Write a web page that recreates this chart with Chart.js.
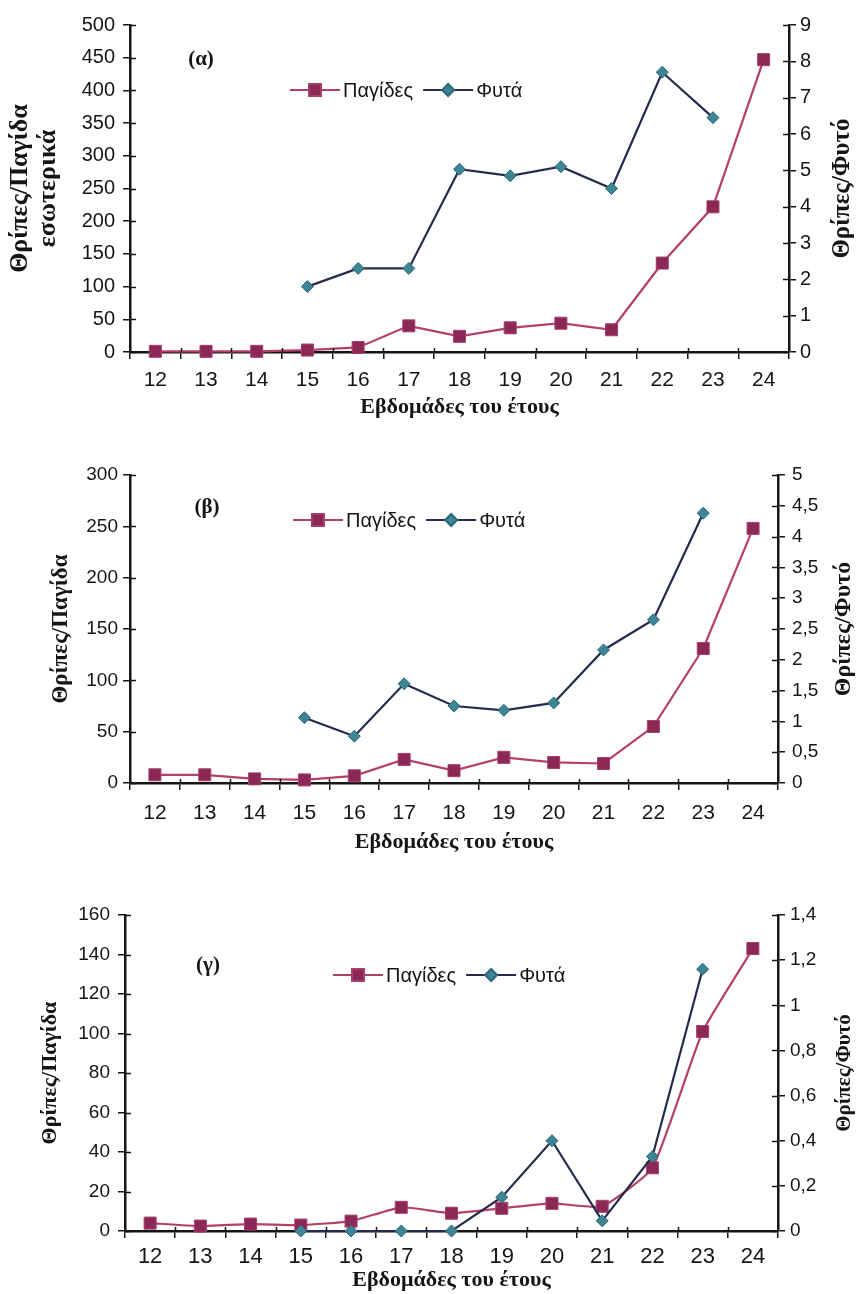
<!DOCTYPE html>
<html>
<head>
<meta charset="utf-8">
<script src="https://cdn.jsdelivr.net/npm/chart.js@4/dist/chart.umd.min.js"></script>
<style>
  body { margin: 0; background: #fff; }
  .panel { position: absolute; left: 0; width: 856px; }
</style>
</head>
<body>
<div class="panel" style="top:0px"><canvas id="chartA" width="856" height="430"></canvas></div>
<div class="panel" style="top:440px"><canvas id="chartB" width="856" height="430"></canvas></div>
<div class="panel" style="top:880px"><canvas id="chartC" width="856" height="414"></canvas></div>
<script>
// weeks of the year
const weeks = ['12', '13', '14', '15', '16', '17', '18', '19', '20', '21', '22', '23', '24'];

// (α) indoor
const trapsA = [1, 1, 1, 3, 7, 40, 24, 37, 44, 34, 136, 222, 447];
const plantsA = [null, null, null, 1.8, 2.3, 2.3, 5.03, 4.85, 5.1, 4.5, 7.7, 6.45, null];
const trapTicksA = [0, 50, 100, 150, 200, 250, 300, 350, 400, 450, 500];
const plantTicksA = [0, 1, 2, 3, 4, 5, 6, 7, 8, 9];

// (β)
const trapsB = [8, 8, 4, 3, 7, 23, 12, 25, 20, 19, 55, 131, 248];
const plantsB = [null, null, null, 1.06, 0.76, 1.61, 1.25, 1.18, 1.3, 2.16, 2.65, 4.38, null];
const trapTicksB = [0, 50, 100, 150, 200, 250, 300];
const plantTicksB = [0, 0.5, 1, 1.5, 2, 2.5, 3, 3.5, 4, 4.5, 5];

// (γ)
const trapsC = [4, 2.5, 3.5, 3, 5, 12, 9, 11.5, 14, 12.5, 32, 101, 143];
const plantsC = [null, null, null, 0, 0, 0, 0, 0.15, 0.4, 0.045, 0.33, 1.16, null];
const trapTicksC = [0, 20, 40, 60, 80, 100, 120, 140, 160];
const plantTicksC = [0, 0.2, 0.4, 0.6, 0.8, 1, 1.2, 1.4];

const trapLabel = 'Παγίδες';
const plantLabel = 'Φυτά';
const xTitle = 'Εβδομάδες του έτους';
const rightTitle = 'Θρίπες/Φυτό';

const TRAP_LINE = '#b43e6c';
const TRAP_FILL = '#8c2856';
const PLANT_LINE = '#262b4c';
const PLANT_FILL = '#3d8595';
const INK = '#151515';
const SANS = '"Liberation Sans", Arial, sans-serif';
const SERIF = '"Liberation Serif", "Times New Roman", serif';

// panel label, right-hand title, inner half of the cross ticks and the line+marker legend
const panelDecor = {
    id: 'panelDecor',
    afterDraw(chart, args, opts) {
        const ctx = chart.ctx;
        const area = chart.chartArea;
        const sx = chart.scales.x, sy = chart.scales.y, sy1 = chart.scales.y1;
        ctx.save();

        ctx.strokeStyle = INK;
        ctx.lineWidth = 1.5;
        ctx.beginPath();
        sy.ticks.forEach(t => {
            const py = Math.round(sy.getPixelForValue(t.value)) + 0.5;
            ctx.moveTo(area.left, py);
            ctx.lineTo(area.left + 6, py);
        });
        sy1.ticks.forEach(t => {
            const py = Math.round(sy1.getPixelForValue(t.value)) + 0.5;
            ctx.moveTo(area.right, py);
            ctx.lineTo(area.right - 6, py);
        });
        for (let i = 0; i < weeks.length - 1; i++) {
            const px = Math.round((sx.getPixelForValue(i) + sx.getPixelForValue(i + 1)) / 2) + 0.5;
            ctx.moveTo(px, area.bottom);
            ctx.lineTo(px, area.bottom - 4);
        }
        ctx.stroke();

        ctx.fillStyle = INK;
        ctx.textAlign = 'center';
        ctx.textBaseline = 'middle';
        ctx.font = 'bold 21px ' + SERIF;
        ctx.fillText(opts.label, opts.labelX, opts.labelY);

        ctx.save();
        ctx.translate(opts.rightTitleX, (area.top + area.bottom) / 2);
        ctx.rotate(-Math.PI / 2);
        ctx.font = 'bold ' + opts.rightTitleSize + 'px ' + SERIF;
        ctx.fillText(rightTitle, 0, 0);
        ctx.restore();

        let x = opts.legendX;
        const y = opts.legendY;
        ctx.font = '20px ' + SANS;
        ctx.textAlign = 'left';
        chart.data.datasets.forEach(ds => {
            ctx.strokeStyle = ds.borderColor;
            ctx.lineWidth = 2;
            ctx.beginPath();
            ctx.moveTo(x, y);
            ctx.lineTo(x + 50, y);
            ctx.stroke();
            ctx.fillStyle = ds.pointBackgroundColor;
            ctx.strokeStyle = ds.pointBorderColor;
            Chart.helpers.drawPoint(ctx, {
                pointStyle: ds.pointStyle,
                radius: ds.pointRadius,
                rotation: 0,
                borderWidth: 1
            }, x + 25, y);
            ctx.fillStyle = INK;
            ctx.fillText(ds.label, x + 53, y + 1);
            x += 53 + ctx.measureText(ds.label).width + 10;
        });
        ctx.restore();
    }
};

function fixedWidth(w) {
    return scale => { scale.width = w; };
}

function useTicks(list) {
    return scale => { scale.ticks = list.map(v => ({ value: v })); };
}

function makePanel(id, cfg) {
    const canvas = document.getElementById(id);
    const H = canvas.height;
    const area = cfg.area;
    const axisBorder = { display: true, color: INK, width: 2.5 };
    const tickGrid = { drawOnChartArea: false, drawTicks: true, tickLength: 7, color: INK, lineWidth: 1.5 };

    return new Chart(canvas, {
        type: 'line',
        data: {
            labels: weeks,
            datasets: [{
                label: trapLabel,
                data: cfg.traps,
                yAxisID: 'y',
                borderColor: TRAP_LINE,
                borderWidth: 2.2,
                pointStyle: 'rect',
                pointRadius: 8.5,
                pointBackgroundColor: TRAP_FILL,
                pointBorderColor: '#a4406c',
                pointBorderWidth: 1,
                tension: cfg.tension,
                clip: false,
                order: 2
            }, {
                label: plantLabel,
                data: cfg.plants,
                yAxisID: 'y1',
                borderColor: PLANT_LINE,
                borderWidth: 2.2,
                pointStyle: 'rectRot',
                pointRadius: 6,
                pointBackgroundColor: PLANT_FILL,
                pointBorderColor: '#2d6877',
                pointBorderWidth: 1,
                tension: 0,
                clip: false,
                order: 1
            }]
        },
        options: {
            responsive: false,
            animation: false,
            devicePixelRatio: 1,
            layout: { padding: { top: area.top, left: 0, right: 0, bottom: 0 } },
            plugins: {
                legend: { display: false },
                tooltip: { enabled: false },
                panelDecor: cfg.decor
            },
            scales: {
                x: {
                    type: 'category',
                    offset: true,
                    grid: Object.assign({}, tickGrid, { offset: true }),
                    border: axisBorder,
                    ticks: { color: INK, font: { family: SANS, size: cfg.xTickSize }, padding: cfg.xTickPad, maxRotation: 0, autoSkip: false },
                    title: {
                        display: true,
                        text: xTitle,
                        color: INK,
                        font: { family: SERIF, size: 22, weight: 'bold', lineHeight: 1.2 },
                        padding: { top: 0, bottom: cfg.xTitlePad }
                    },
                    afterFit: scale => { scale.height = H - area.bottom; }
                },
                y: {
                    position: 'left',
                    min: cfg.trapTicks[0],
                    max: cfg.trapTicks[cfg.trapTicks.length - 1],
                    afterBuildTicks: useTicks(cfg.trapTicks),
                    grid: tickGrid,
                    border: axisBorder,
                    ticks: { color: INK, font: { family: SANS, size: cfg.yTickSize }, padding: cfg.yTickPad },
                    title: {
                        display: true,
                        text: cfg.leftTitle,
                        color: INK,
                        font: { family: SERIF, size: cfg.leftTitleSize, weight: 'bold', lineHeight: 1.05 },
                        padding: { top: cfg.leftTitlePad, bottom: 0 }
                    },
                    afterFit: fixedWidth(area.left)
                },
                y1: {
                    position: 'right',
                    min: cfg.plantTicks[0],
                    max: cfg.plantTicks[cfg.plantTicks.length - 1],
                    afterBuildTicks: useTicks(cfg.plantTicks),
                    grid: tickGrid,
                    border: axisBorder,
                    ticks: {
                        color: INK,
                        font: { family: SANS, size: cfg.y1TickSize },
                        padding: cfg.y1TickPad,
                        callback: v => String(v).replace('.', ',')
                    },
                    afterFit: fixedWidth(856 - area.right)
                }
            }
        },
        plugins: [panelDecor]
    });
}

makePanel('chartA', {
    traps: trapsA, plants: plantsA, trapTicks: trapTicksA, plantTicks: plantTicksA,
    area: { left: 130, right: 789, top: 25, bottom: 352 },
    tension: 0,
    xTickSize: 21, xTickPad: 9, xTitlePad: 9,
    yTickSize: 20, yTickPad: 8, y1TickSize: 20, y1TickPad: 4,
    leftTitle: ['Θρίπες/Παγίδα', 'εσωτερικά'], leftTitleSize: 26, leftTitlePad: 7,
    decor: { label: '(α)', labelX: 201, labelY: 60, rightTitleX: 843, rightTitleSize: 25, legendX: 290, legendY: 90 }
});

makePanel('chartB', {
    traps: trapsB, plants: plantsB, trapTicks: trapTicksB, plantTicks: plantTicksB,
    area: { left: 130, right: 778, top: 35, bottom: 343 },
    tension: 0,
    xTickSize: 21, xTickPad: 11, xTitlePad: 14,
    yTickSize: 19, yTickPad: 5, y1TickSize: 19, y1TickPad: 7,
    leftTitle: 'Θρίπες/Παγίδα', leftTitleSize: 23, leftTitlePad: 49,
    decor: { label: '(β)', labelX: 207, labelY: 68, rightTitleX: 844, rightTitleSize: 24, legendX: 293, legendY: 80 }
});

makePanel('chartC', {
    traps: trapsC, plants: plantsC, trapTicks: trapTicksC, plantTicks: plantTicksC,
    area: { left: 125, right: 778, top: 35, bottom: 351 },
    tension: 0.15,
    xTickSize: 22, xTickPad: 6, xTitlePad: 0,
    yTickSize: 19, yTickPad: 8, y1TickSize: 19, y1TickPad: 5,
    leftTitle: 'Θρίπες/Παγίδα', leftTitleSize: 22, leftTitlePad: 39,
    decor: { label: '(γ)', labelX: 208, labelY: 86, rightTitleX: 845, rightTitleSize: 21, legendX: 333, legendY: 95 }
});
</script>
</body>
</html>
